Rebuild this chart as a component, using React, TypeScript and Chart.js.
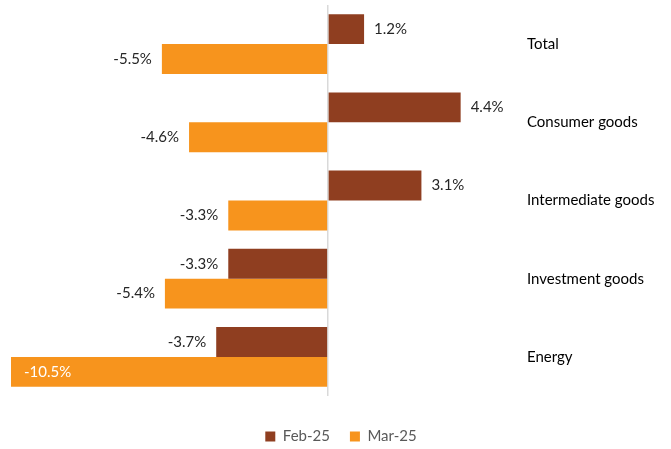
import React, { useEffect, useRef } from "react";
import { Chart, registerables } from "chart.js";

Chart.register(...registerables);

const categories = ["Total", "Consumer goods", "Intermediate goods", "Investment goods", "Energy"];
const feb25 = [1.2, 4.4, 3.1, -3.3, -3.7];
const mar25 = [-5.5, -4.6, -3.3, -5.4, -10.5];
const seriesNames = ["Feb-25", "Mar-25"];
const seriesColors = ["#8F3E20", "#F7941D"];

const FONT = "Lato, 'Open Sans', sans-serif";

const valueLabels = {
  id: "valueLabels",
  afterDatasetsDraw(chart: any) {
    const { ctx, chartArea } = chart;
    ctx.save();
    ctx.font = `15px ${FONT}`;
    ctx.textBaseline = "middle";
    chart.data.datasets.forEach((ds: any, di: number) => {
      const meta = chart.getDatasetMeta(di);
      meta.data.forEach((el: any, i: number) => {
        const v = ds.data[i] as number;
        const text = v.toFixed(1) + "%";
        const w = ctx.measureText(text).width;
        const y = el.y;
        if (v >= 0) {
          ctx.fillStyle = "#262626";
          ctx.textAlign = "left";
          ctx.fillText(text, el.x + 10, y);
        } else if (el.x - 10 - w < chartArea.left) {
          ctx.fillStyle = "#ffffff";
          ctx.textAlign = "left";
          ctx.fillText(text, el.x + 13, y);
        } else {
          ctx.fillStyle = "#262626";
          ctx.textAlign = "right";
          ctx.fillText(text, el.x - 10, y);
        }
      });
    });
    ctx.restore();
  },
};

export default function App() {
  const ref = useRef<HTMLCanvasElement | null>(null);

  useEffect(() => {
    if (!ref.current) return;
    const chart = new Chart(ref.current, {
      type: "bar",
      data: {
        labels: categories,
        datasets: [
          {
            label: seriesNames[0],
            data: feb25,
            backgroundColor: seriesColors[0],
            categoryPercentage: 0.765,
            barPercentage: 1,
          },
          {
            label: seriesNames[1],
            data: mar25,
            backgroundColor: seriesColors[1],
            categoryPercentage: 0.765,
            barPercentage: 1,
          },
        ],
      },
      options: {
        indexAxis: "y",
        responsive: false,
        animation: false,
        layout: { padding: { left: 11, right: 0, top: 5, bottom: -5 } },
        plugins: {
          tooltip: { enabled: false },
          legend: {
            position: "bottom",
            labels: {
              boxWidth: 10,
              boxHeight: 10,
              padding: 20,
              color: "#595959",
              font: { family: FONT, size: 15 },
            },
          },
        },
        scales: {
          x: {
            min: -10.5,
            max: 6.4,
            ticks: { display: false },
            grid: { color: "#D9D9D9", lineWidth: 1.5, drawTicks: false },
            border: { display: false },
            afterBuildTicks: (s: any) => {
              s.ticks = [{ value: 0 }];
            },
            afterFit: (s: any) => {
              s.height = 13;
              s.paddingLeft = 0;
              s.paddingRight = 0;
            },
          },
          y: {
            position: "right",
            grid: { display: false, drawTicks: false },
            border: { display: false },
            ticks: {
              color: "#000000",
              padding: 6,
              font: { family: FONT, size: 15 },
            },
            afterFit: (s: any) => {
              s.width = 150;
              s.paddingTop = 0;
              s.paddingBottom = 0;
            },
          },
        },
      },
      plugins: [valueLabels],
    });
    return () => chart.destroy();
  }, []);

  return (
    <div style={{ position: "fixed", left: 0, top: 0, width: 671, height: 449, background: "#fff" }}>
      <canvas ref={ref} width={671} height={449} />
    </div>
  );
}
